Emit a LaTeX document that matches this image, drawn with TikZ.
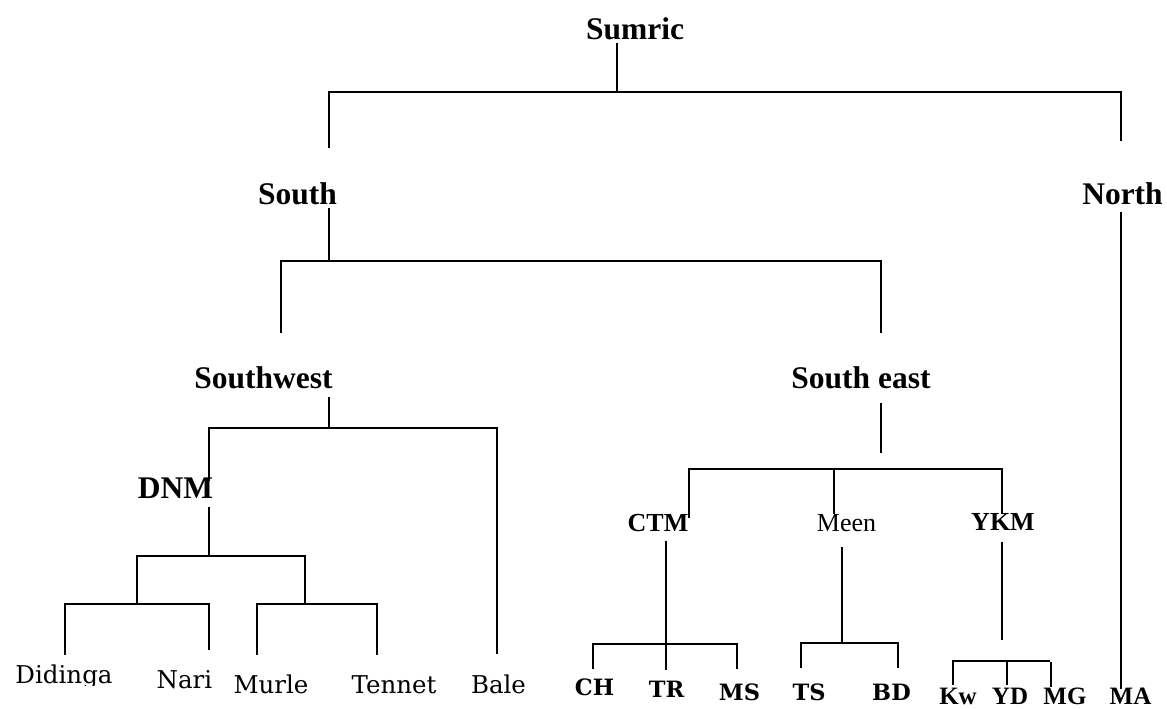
\documentclass[tikz,border=0pt]{standalone}
\usepackage{fontspec}
\setmainfont{Liberation Serif}
\newfontfamily\bookfont{DejaVu Serif}
\begin{document}
\begin{tikzpicture}[x=1pt,y=-1pt,
  link/.style={line width=1.6pt, line cap=rect},
  lbl/.style={inner sep=0pt, anchor=base},
  big/.style={lbl, font=\fontsize{31.5}{34}\selectfont\bfseries},
  mid/.style={lbl, font=\fontsize{26}{28}\selectfont\bfseries},
  midreg/.style={lbl, font=\fontsize{26}{28}\selectfont},
  leaf/.style={lbl, font=\bookfont\fontsize{24.5}{26}\selectfont},
  leafbold/.style={lbl, font=\bookfont\bfseries\fontsize{22.5}{24}\selectfont},
  leaftimes/.style={lbl, font=\fontsize{25}{27}\selectfont\bfseries}]
\useasboundingbox (0,0) rectangle (1167,709);

% ---- labels ----
\node[big] (sumric) at (635,40) {Sumric};
\node[big] (south) at (297.5,204) {South};
\node[big] (north) at (1122.5,204) {North};
\node[big] (sw) at (263.5,388) {Southwest};
\node[big] (se) at (861,388) {South east};
\node[big] (dnm) at (175.5,498) {DNM};
\node[mid] (ctm) at (658,531) {CTM};
\node[midreg] (meen) at (846.5,531) {Meen};
\node[mid] (ykm) at (1003,530) {YKM};

% the descender of "Didinga" is trimmed off
\begin{scope}
  \clip (0,0) rectangle (140,685);
  \node[leaf] (didinga) at (64,683.5) {Didinga};
\end{scope}
\node[leaf] (nari) at (184.5,688) {Nari};
\node[leaf] (murle) at (271,693) {Murle};
\node[leaf] (tennet) at (394,693) {Tennet};
\node[leaf] (bale) at (498.5,693) {Bale};

\node[leafbold] (ch) at (594.5,695) {CH};
\node[leafbold] (tr) at (666.5,697) {TR};
\node[leafbold] (ms) at (739.5,700) {MS};
\node[leafbold] (ts) at (809,700) {TS};
\node[leafbold] (bd) at (891.5,700) {BD};

\node[leaftimes] (kw) at (958,704) {Kw};
\node[leaftimes] (yd) at (1010,704) {YD};
\node[leaftimes] (mg) at (1065,704) {MG};
\node[leaftimes] (ma) at (1130.5,704) {MA};

% ---- branch points ----
\coordinate (sumricS) at (617,44);
\coordinate (rootbar) at (617,92);
\coordinate (southN) at (329,147);
\coordinate (northN) at (1121,140);

\coordinate (southS) at (329,209);
\coordinate (southbar) at (329,261);
\coordinate (swN) at (281,332);
\coordinate (seN) at (881,332);

\coordinate (swS) at (329,398);
\coordinate (swbar) at (329,428);
\coordinate (dnmN) at (209,480);
\coordinate (baleN) at (497,653);

\coordinate (dnmS) at (209,508);
\coordinate (dnmbar) at (209,556);
\coordinate (lgrp) at (137,604);
\coordinate (rgrp) at (305,604);
\coordinate (didingaN) at (65,654);
\coordinate (nariN) at (209,649);
\coordinate (murleN) at (257,654);
\coordinate (tennetN) at (377,654);

\coordinate (seS) at (881,404);
\coordinate (seE) at (881,452);
\coordinate (sebar) at (881,469);
\coordinate (ctmN) at (689,517);
\coordinate (meenN) at (834,513);
\coordinate (ykmN) at (1002,513);

\coordinate (ctmS) at (666,542);
\coordinate (ctmbar) at (666,644);
\coordinate (chN) at (593,668);
\coordinate (trN) at (666,669);
\coordinate (msN) at (737,668);

\coordinate (meenS) at (842,548);
\coordinate (meenbar) at (842,643);
\coordinate (tsN) at (801,667);
\coordinate (bdN) at (898,667);

\coordinate (ykmS) at (1002,543);
\coordinate (ykmE) at (1002,639);
\coordinate (ykmbar) at (1007,661);
\coordinate (ykmbarE) at (1049,661);
\coordinate (kwN) at (953,684);
\coordinate (ydN) at (1007,684);
\coordinate (mgT) at (1051,663);
\coordinate (mgN) at (1051,686);

\coordinate (northS) at (1121,213);
\coordinate (maN) at (1121,688);

% ---- connectors ----
\draw[link] (sumricS) -- (rootbar);
\draw[link] (southN) |- (rootbar) -| (northN);

\draw[link] (southS) -- (southbar);
\draw[link] (swN) |- (southbar) -| (seN);

\draw[link] (swS) -- (swbar);
\draw[link] (dnmN) |- (swbar) -| (baleN);

\draw[link] (dnmS) -- (dnmbar);
\draw[link] (lgrp) |- (dnmbar) -| (rgrp);
\draw[link] (didingaN) |- (lgrp) -| (nariN);
\draw[link] (murleN) |- (rgrp) -| (tennetN);

\draw[link] (seS) -- (seE);
\draw[link] (ctmN) |- (sebar) -| (ykmN);
\draw[link] (sebar -| meenN) -- (meenN);

\draw[link] (ctmS) -- (trN);
\draw[link] (chN) |- (ctmbar) -| (msN);

\draw[link] (meenS) -- (meenbar);
\draw[link] (tsN) |- (meenbar) -| (bdN);

\draw[link] (ykmS) -- (ykmE);
\draw[link] (kwN) |- (ykmbar) -- (ydN);
\draw[link] (ykmbar) -- (ykmbarE);
\draw[link] (mgT) -- (mgN);

\draw[link] (northS) -- (maN);
\end{tikzpicture}
\end{document}
